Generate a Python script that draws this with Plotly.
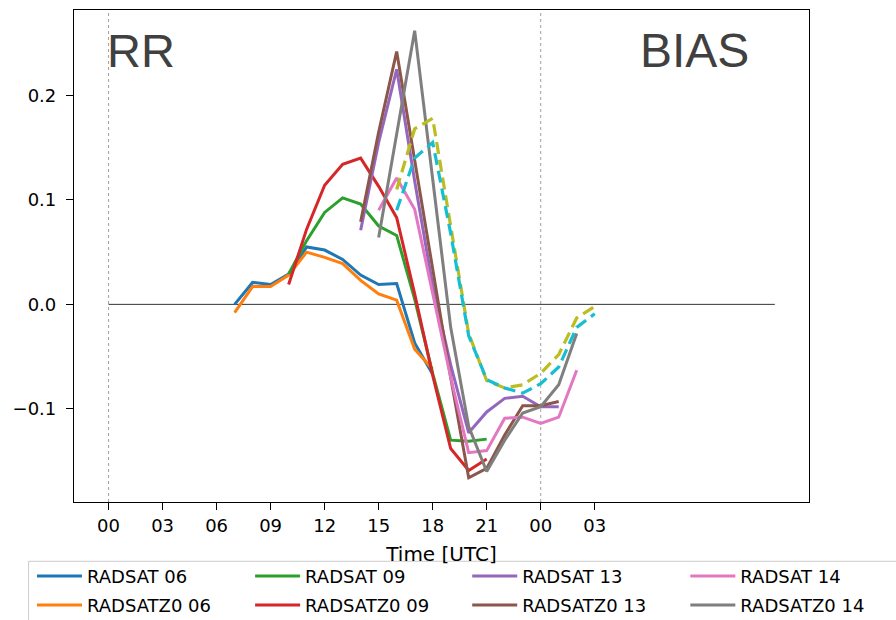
import plotly.graph_objects as go

# ---------------- data ----------------
tick_hours = [0, 3, 6, 9, 12, 15, 18, 21, 24, 27]
tick_labels = ["00", "03", "06", "09", "12", "15", "18", "21", "00", "03"]
y_ticks = [-0.1, 0.0, 0.1, 0.2]
y_tick_labels = ["\u22120.1", "0.0", "0.1", "0.2"]

hours_06 = list(range(7, 19))
radsat_06 = [0.000, 0.021, 0.019, 0.029, 0.055, 0.052, 0.043, 0.028, 0.019, 0.020, -0.037, -0.067]
radsatz0_06 = [-0.008, 0.017, 0.017, 0.028, 0.050, 0.045, 0.039, 0.023, 0.010, 0.004, -0.043, -0.062]

hours_09 = list(range(10, 22))
radsat_09 = [0.029, 0.061, 0.088, 0.102, 0.096, 0.075, 0.066, 0.005, -0.066, -0.130, -0.131, -0.129]
radsatz0_09 = [0.019, 0.072, 0.114, 0.134, 0.140, 0.113, 0.083, 0.010, -0.068, -0.138, -0.159, -0.148]

hours_13 = list(range(14, 26))
radsat_13 = [0.071, 0.155, 0.225, 0.118, 0.018, -0.058, -0.123, -0.103, -0.090, -0.088, -0.098, -0.098]
radsatz0_13 = [0.079, 0.165, 0.242, 0.138, 0.033, -0.070, -0.166, -0.157, -0.125, -0.097, -0.097, -0.093]

hours_14 = list(range(15, 27))
radsat_14 = [0.090, 0.121, 0.091, 0.010, -0.070, -0.142, -0.140, -0.109, -0.108, -0.114, -0.108, -0.063]
radsatz0_14 = [0.064, 0.163, 0.262, 0.120, -0.022, -0.117, -0.160, -0.130, -0.104, -0.098, -0.077, -0.028]

hours_16 = list(range(16, 28))
extra_a = [0.110, 0.168, 0.178, 0.075, -0.028, -0.073, -0.080, -0.077, -0.066, -0.048, -0.013, -0.002]
extra_b = [0.090, 0.140, 0.155, 0.068, -0.030, -0.072, -0.080, -0.085, -0.076, -0.060, -0.022, -0.009]

day_marks = [0, 24]
zero_line_end = 37

# ---------------- styling ----------------
COLORS = ["#1f77b4", "#ff7f0e", "#2ca02c", "#d62728", "#9467bd",
          "#8c564b", "#e377c2", "#7f7f7f", "#bcbd22", "#17becf"]
FONT = "DejaVu Sans"
W, H = 896, 620
L, R, T, B = 74, 87.4, 9.5, 118.3
PW, PH = W - L - R, H - T - B


def px2x(px):
    return (px - L) / PW


def px2y(py):
    return (H - B - py) / PH


series = [
    ("RADSAT 06", hours_06, radsat_06),
    ("RADSATZ0 06", hours_06, radsatz0_06),
    ("RADSAT 09", hours_09, radsat_09),
    ("RADSATZ0 09", hours_09, radsatz0_09),
    ("RADSAT 13", hours_13, radsat_13),
    ("RADSATZ0 13", hours_13, radsatz0_13),
    ("RADSAT 14", hours_14, radsat_14),
    ("RADSATZ0 14", hours_14, radsatz0_14),
]

fig = go.Figure()

col_px = [37, 255, 472, 690]
row_px = [576, 605]
legend_layouts = {}
for i, (name, xs, ys) in enumerate(series):
    key = "legend" if i == 0 else f"legend{i + 1}"
    fig.add_trace(go.Scatter(
        x=xs, y=ys, mode="lines", name=name,
        line=dict(color=COLORS[i], width=3),
        legend=key,
    ))
    col, row = i // 2, i % 2
    legend_layouts[key] = dict(
        x=px2x(col_px[col] - 5), y=px2y(row_px[row]),
        xanchor="left", yanchor="middle",
        orientation="v", bgcolor="rgba(0,0,0,0)", borderwidth=0,
        font=dict(family=FONT, size=18, color="#000000"),
        itemwidth=45,
    )

for j, ys in enumerate([extra_a, extra_b]):
    fig.add_trace(go.Scatter(
        x=hours_16, y=ys, mode="lines", showlegend=False,
        line=dict(color=COLORS[8 + j], width=3.2, dash="12px,6px"),
    ))

shapes = []
for d in day_marks:
    shapes.append(dict(type="line", xref="x", yref="paper", x0=d, x1=d, y0=0, y1=1,
                       line=dict(color="#a0a0a0", width=1, dash="dot"), layer="below"))
shapes.append(dict(type="line", xref="x", yref="y", x0=0, x1=zero_line_end, y0=0, y1=0,
                   line=dict(color="#333333", width=1), layer="below"))
# legend frame
shapes.append(dict(type="rect", xref="paper", yref="paper",
                   x0=px2x(28.6), x1=px2x(910), y0=px2y(640), y1=px2y(561),
                   line=dict(color="#cccccc", width=1), fillcolor="rgba(255,255,255,0.8)",
                   layer="above"))

fig.update_layout(
    width=W, height=H,
    margin=dict(l=L, r=R, t=T, b=B, autoexpand=False),
    plot_bgcolor="white", paper_bgcolor="white",
    font=dict(family=FONT, size=18, color="#000000"),
    shapes=shapes,
    annotations=[
        dict(text="RR", x=-0.2, xref="x", y=px2y(50.5), yref="paper",
             xanchor="left", yanchor="middle", showarrow=False,
             font=dict(family="Liberation Sans", size=47, color="#404040")),
        dict(text="BIAS", x=35.7, xref="x", y=px2y(50.5), yref="paper",
             xanchor="right", yanchor="middle", showarrow=False,
             font=dict(family="Liberation Sans", size=48, color="#404040")),
    ],
    **legend_layouts,
)

fig.update_xaxes(
    range=[-1.92, 38.9], tickmode="array", tickvals=tick_hours, ticktext=tick_labels,
    showgrid=False, zeroline=False, showline=True, mirror=True,
    linecolor="black", linewidth=1.2, ticks="outside", ticklen=7, tickcolor="black",
    tickfont=dict(family=FONT, size=18),
    title=dict(text="Time [UTC]", font=dict(family=FONT, size=20), standoff=12),
)
fig.update_yaxes(
    range=[-0.1892, 0.2818], tickmode="array", tickvals=y_ticks, ticktext=y_tick_labels,
    showgrid=False, zeroline=False, showline=True, mirror=True,
    linecolor="black", linewidth=1.2, ticks="outside", ticklen=7, tickcolor="black",
    tickfont=dict(family=FONT, size=18), ticklabelstandoff=6,
)

fig.write_html("out.html")
